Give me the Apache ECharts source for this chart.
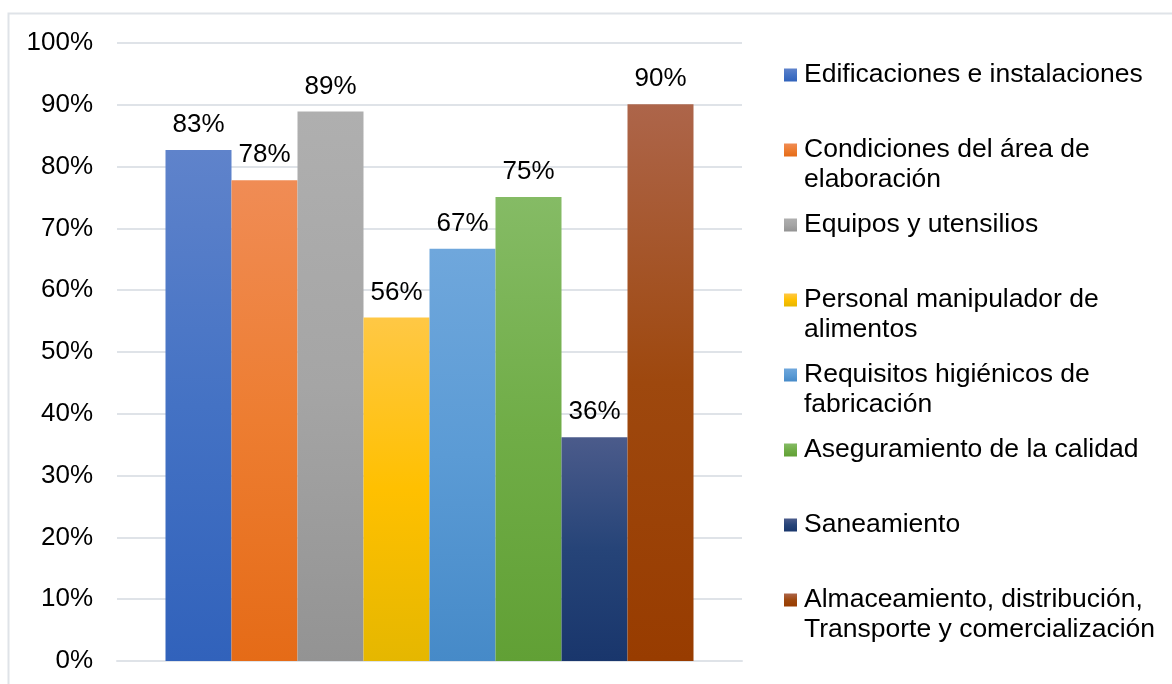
<!DOCTYPE html>
<html>
<head>
<meta charset="utf-8">
<script src="https://cdn.jsdelivr.net/npm/echarts@6/dist/echarts.min.js"></script>
<style>
  html, body { margin: 0; padding: 0; background: #fff; }
  #main { width: 1172px; height: 684px; }
</style>
</head>
<body>
<div id="main"></div>
<script>
// datos
var categorias = ['Edificaciones e instalaciones', 'Condiciones del área de elaboración', 'Equipos y utensilios',
  'Personal manipulador de alimentos', 'Requisitos higiénicos de fabricación', 'Aseguramiento de la calidad',
  'Saneamiento', 'Almaceamiento, distribución, Transporte y comercialización'];
var valores = [0.827, 0.778, 0.889, 0.556, 0.667, 0.751, 0.362, 0.901];
// texto de la leyenda partido en lineas como en el original
var leyendaLineas = [
  ['Edificaciones e instalaciones'],
  ['Condiciones del área de', 'elaboración'],
  ['Equipos y utensilios'],
  ['Personal manipulador de', 'alimentos'],
  ['Requisitos higiénicos de', 'fabricación'],
  ['Aseguramiento de la calidad'],
  ['Saneamiento'],
  ['Almaceamiento, distribución,', 'Transporte y comercialización']
];
var yTicks = [0, 0.1, 0.2, 0.3, 0.4, 0.5, 0.6, 0.7, 0.8, 0.9, 1];

// colores: claro arriba, base, oscuro abajo
var colorArriba = ['#5f83cb', '#f08c55', '#afafaf', '#ffc845', '#6fa7dc', '#85bb65', '#4b5b8b', '#ad654a'];
var colorBase   = ['#4472c4', '#ed7d31', '#a5a5a5', '#ffc000', '#5b9bd5', '#70ad47', '#264478', '#9e480e'];
var colorAbajo  = ['#3162bb', '#e56b17', '#939393', '#e5b700', '#468ac8', '#61a035', '#19366c', '#983c00'];

var fuente = "'Liberation Sans', Arial, sans-serif";
var myChart = echarts.init(document.getElementById('main'));

function degradado(i) {
  return new echarts.graphic.LinearGradient(0, 0, 0, 1, [
    { offset: 0, color: colorArriba[i] },
    { offset: 0.5, color: colorBase[i] },
    { offset: 1, color: colorAbajo[i] }
  ]);
}

var series = [];
var leyendas = [];
var lh = 30;
for (var i = 0; i < categorias.length; i++) {
  series.push({
    name: categorias[i],
    type: 'bar',
    barWidth: 66,
    barGap: '0%',
    itemStyle: { color: degradado(i) },
    label: {
      show: true,
      position: 'top',
      distance: 12,
      fontFamily: fuente,
      fontSize: 26,
      color: '#000',
      formatter: function (p) { return Math.round(p.value * 100) + '%'; }
    },
    data: [valores[i]]
  });
  // una leyenda por elemento, con linea en blanco arriba si el texto tiene dos lineas
  var lineas = leyendaLineas[i];
  var texto = lineas.length > 1 ? '\n' + lineas.join('\n') : lineas[0];
  var nLineas = lineas.length > 1 ? 3 : 1;
  var centro = 75 + 75 * i;
  leyendas.push({
    data: [categorias[i]],
    left: 784,
    top: centro - nLineas * lh / 2,
    padding: 0,
    itemWidth: 13,
    itemHeight: 13,
    itemGap: 0,
    icon: 'rect',
    selectedMode: false,
    formatter: (function (t) { return function () { return t; }; })(texto),
    textStyle: { fontFamily: fuente, fontSize: 26.5, color: '#000', lineHeight: lh, padding: [0, 0, 0, 2] }
  });
}

var option = {
  animation: false,
  backgroundColor: '#fff',
  graphic: [{
    type: 'rect',
    shape: { x: 8.5, y: 13.5, width: 1200, height: 700 },
    style: { fill: 'none', stroke: '#dfe3e8', lineWidth: 2 },
    silent: true,
    z: -1
  }],
  legend: leyendas,
  grid: { left: 117, right: 430, top: 43, bottom: 23, containLabel: false },
  xAxis: {
    type: 'category',
    data: [''],
    axisLine: { show: true, lineStyle: { color: '#dfe3e8', width: 2 } },
    axisTick: { show: false },
    axisLabel: { show: false }
  },
  yAxis: {
    type: 'value',
    min: yTicks[0],
    max: yTicks[yTicks.length - 1],
    interval: 0.1,
    axisLine: { show: false },
    axisTick: { show: false },
    axisLabel: {
      margin: 24,
      fontFamily: fuente,
      fontSize: 26,
      color: '#000',
      formatter: function (v) { return Math.round(v * 100) + '%'; }
    },
    splitLine: { lineStyle: { color: '#dfe3e8', width: 2 } }
  },
  series: series
};
myChart.setOption(option);
</script>
</body>
</html>
